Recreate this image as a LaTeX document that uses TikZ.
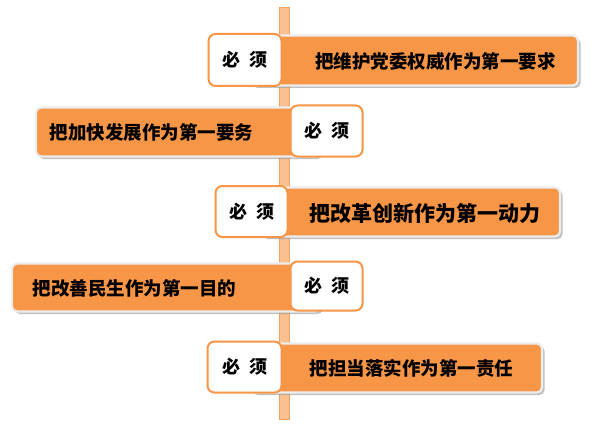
\documentclass[tikz,border=0pt]{standalone}
\usepackage{fontspec}
\newfontfamily\cjk{Noto Sans CJK SC}
\usetikzlibrary{shadows}
\definecolor{orng}{HTML}{F79646}
\definecolor{barfill}{HTML}{FAC090}
\definecolor{barline}{HTML}{F0A060}
\newcommand{\bixu}{必\hspace{0.5em}须}
\tikzset{
  bandbox/.style={draw=white!93!black, line width=2.2pt, fill=orng, rounded corners=5pt, inner sep=0pt,
    drop shadow={shadow xshift=2.5pt, shadow yshift=-2.5pt, fill=black!40, opacity=0.6}},
  mustbox/.style={draw=orng, line width=2pt, fill=white, rounded corners=7pt, inner sep=0pt,
    font=\cjk\bfseries\fontsize{18}{20}\selectfont},
  txt/.style={font=\cjk\bfseries\fontsize{18.5}{20}\selectfont, text=black, inner sep=0pt},
  bigtxt/.style={font=\cjk\bfseries\fontsize{21}{23}\selectfont, text=black, inner sep=0pt},
}
\begin{document}
\begin{tikzpicture}[x=1pt,y=-1pt]
\useasboundingbox[fill=white] (0,0) rectangle (596,441);
% central bar
\node[draw=barline, line width=0.8pt, fill=barfill, minimum width=10pt, minimum height=412pt, inner sep=0pt] (bar) at (284.5,213.5) {};
% row 1
\node[bandbox, minimum width=328pt, minimum height=50pt] (o1) at (414,60.5) {};
\node[mustbox, minimum width=73pt, minimum height=52pt] (m1) at (245,60) {\bixu};
\node[txt] (t1) at (435.5,61) {把维护党委权威作为第一要求};
% row 2
\node[bandbox, minimum width=284pt, minimum height=49pt] (o2) at (178,132) {};
\node[mustbox, minimum width=72pt, minimum height=51pt] (m2) at (326.5,131) {\bixu};
\node[txt] (t2) at (151.5,132) {把加快发展作为第一要务};
% row 3
\node[bandbox, minimum width=300pt, minimum height=49pt] (o3) at (410,212) {};
\node[mustbox, minimum width=72pt, minimum height=51pt] (m3) at (251.5,211.5) {\bixu};
\node[bigtxt] (t3) at (425,213) {把改革创新作为第一动力};
% row 4
\node[bandbox, minimum width=308pt, minimum height=48pt] (o4) at (166,287.5) {};
\node[mustbox, minimum width=72pt, minimum height=49pt] (m4) at (326.5,286) {\bixu};
\node[txt] (t4) at (134.5,288) {把改善民生作为第一目的};
% row 5
\node[bandbox, minimum width=292pt, minimum height=49pt] (o5) at (396,368) {};
\node[mustbox, minimum width=74pt, minimum height=51pt] (m5) at (244.5,367) {\bixu};
\node[txt] (t5) at (411.5,368) {把担当落实作为第一责任};
\end{tikzpicture}
\end{document}
